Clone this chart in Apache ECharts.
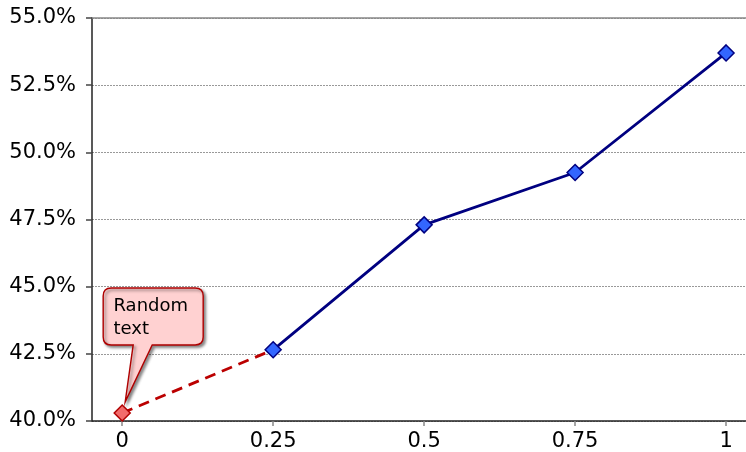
<!DOCTYPE html>
<html>
<head>
<meta charset="utf-8">
<title>ECharts</title>
<script src="https://cdn.jsdelivr.net/npm/echarts@6/dist/echarts.min.js"></script>
</head>
<body style="margin:0">
<div id="main" style="width:746px;height:452px;"></div>
<script type="text/javascript">
// data
var xTicks = [0, 0.25, 0.5, 0.75, 1];
var mainX = [0.25, 0.5, 0.75, 1];
var mainY = [42.65, 47.3, 49.25, 53.7];
var extraX = [0, 0.25];
var extraY = [40.3, 42.65];
var noteText = 'Random\ntext';

var myChart = echarts.init(document.getElementById('main'));

var mainData = mainX.map(function (x, i) { return [x, mainY[i]]; });
var extraData = extraX.map(function (x, i) {
  var d = { value: [x, extraY[i]] };
  if (i > 0) d.symbol = 'none';
  return d;
});

// callout balloon, tip at bottom-left
var balloon = 'path://M8,0 L92,0 Q100,0 100,8 L100,49 Q100,57 92,57 L49,57 L22,114 L30,57 L8,57 Q0,57 0,49 L0,8 Q0,0 8,0 Z';

var option = {
  backgroundColor: '#fff',
  animation: false,
  textStyle: { fontFamily: 'DejaVu Sans' },
  grid: { left: 92, top: 18, right: 0, bottom: 31 },
  xAxis: [{
    type: 'value',
    min: -0.05,
    max: 1.033,
    axisLine: { onZero: false, lineStyle: { color: '#222', width: 1.5 } },
    axisTick: { customValues: xTicks, length: 5, lineStyle: { color: '#888', width: 1.5 } },
    axisLabel: {
      customValues: xTicks, margin: 10, fontSize: 21, color: '#000',
      formatter: function (v) { return String(v); }
    },
    splitLine: { show: false }
  }, {
    type: 'value',
    position: 'top',
    min: -0.05,
    max: 1.033,
    axisLine: { show: true, onZero: false, lineStyle: { color: '#888', width: 1.5 } },
    axisTick: { show: false },
    axisLabel: { show: false },
    splitLine: { show: false }
  }],
  yAxis: {
    type: 'value',
    min: 40,
    max: 55,
    interval: 2.5,
    axisLine: { show: true, onZero: false, lineStyle: { color: '#222', width: 1.5 } },
    axisTick: { show: true, length: 6, lineStyle: { color: '#444', width: 1.5 } },
    axisLabel: {
      margin: 16, fontSize: 21, color: '#000',
      formatter: function (v) { return v.toFixed(1) + '%'; }
    },
    splitLine: { lineStyle: { color: '#999', type: [2, 1], width: 1 } }
  },
  series: [{
    type: 'line',
    data: extraData,
    symbol: 'diamond',
    symbolSize: 16,
    lineStyle: { color: '#bb0000', width: 2.8, type: [11, 7] },
    itemStyle: { color: '#f26b6b', borderColor: '#b00000', borderWidth: 1.5 },
    markPoint: {
      symbol: balloon,
      symbolSize: [100, 114],
      symbolOffset: [31, -68],
      silent: true,
      itemStyle: {
        color: '#ffd1d1', borderColor: '#b00000', borderWidth: 1.5,
        shadowColor: 'rgba(0,0,0,0.45)', shadowBlur: 3, shadowOffsetX: 2, shadowOffsetY: 2
      },
      label: {
        show: true,
        position: [11, 8],
        align: 'left',
        verticalAlign: 'top',
        fontSize: 18,
        lineHeight: 23,
        color: '#000',
        formatter: noteText
      },
      data: [{ coord: [extraX[0], extraY[0]] }]
    }
  }, {
    type: 'line',
    data: mainData,
    symbol: 'diamond',
    symbolSize: 16,
    lineStyle: { color: '#000080', width: 2.8 },
    itemStyle: { color: '#3366ff', borderColor: '#000080', borderWidth: 1.5 }
  }]
};
myChart.setOption(option);
</script>
</body>
</html>
